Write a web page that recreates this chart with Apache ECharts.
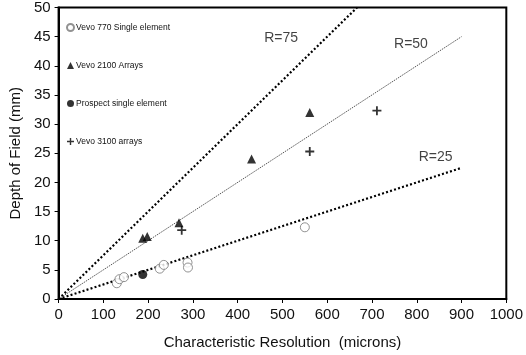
<!DOCTYPE html>
<html>
<head>
<meta charset="utf-8">
<script src="https://cdn.jsdelivr.net/npm/echarts@6/dist/echarts.min.js"></script>
<style>
  html, body { margin: 0; padding: 0; background: #fff; }
  #chart { width: 526px; height: 355px; }
</style>
</head>
<body>
<div id="chart"></div>
<script>
// measured points: [resolution (microns), depth of field (mm)]
const vevo770 = [[130, 2.7], [136, 3.4], [146, 3.75], [226, 5.2], [235, 5.85], [288, 6.25], [289, 5.4], [550, 12.3]]
const vevo2100 = [[188, 10.4], [198, 10.7], [269, 13.1], [431, 24], [561, 32]]
const prospect = [[188, 4.2]]
const vevo3100 = [[275, 11.8], [561, 25.3], [711, 32.3]]

// reference lines: depth = R/1000 * resolution
const rValues = [75, 50, 25]
const rLabelPos = [[497, 44.8], [787, 43.8], [842, 24.3]]
const lineMaxX = 900
const yMax = 50

const font = 'Liberation Sans, Arial, sans-serif'
const crossPath = 'path://M4,0 L6,0 L6,4 L10,4 L10,6 L6,6 L6,10 L4,10 L4,6 L0,6 L0,4 L4,4 Z'

const lineStyles = [
  { color: '#000', width: 2.2, type: [2, 2.2] },
  { color: '#555', width: 1, type: [1.5, 1] },
  { color: '#000', width: 2.2, type: [2, 2.2] },
]

const refLines = rValues.map((r, i) => {
  const endX = Math.min(lineMaxX, (yMax * 1000) / r)
  return {
    name: 'R=' + r,
    type: 'line',
    data: [[0, 0], [endX, (r / 1000) * endX]],
    symbol: 'none',
    lineStyle: lineStyles[i],
    silent: true,
    z: 1,
  }
})

const chart = echarts.init(document.getElementById('chart'))
chart.setOption({
  animation: false,
  textStyle: { fontFamily: font },
  grid: {
    left: 52.5,
    right: 19,
    top: 7,
    bottom: 56,
    show: true,
    borderColor: '#000',
    borderWidth: 2,
  },
  legend: {
    orient: 'vertical',
    left: 61,
    top: 18,
    itemGap: 29,
    itemWidth: 7,
    itemHeight: 7,
    textStyle: { fontSize: 8.5, color: '#111', fontFamily: font, padding: [0, 0, 0, -3] },
    data: [
      { name: 'Vevo 770 Single element' },
      { name: 'Vevo 2100 Arrays' },
      { name: 'Prospect single element' },
      { name: 'Vevo 3100 arrays' },
    ],
  },
  xAxis: {
    type: 'value',
    min: 0,
    max: 1000,
    interval: 100,
    name: 'Characteristic Resolution  (microns)',
    nameLocation: 'middle',
    nameGap: 36,
    nameTextStyle: { fontSize: 15, color: '#111', fontFamily: font },
    axisLine: { lineStyle: { color: '#000', width: 2 } },
    axisTick: { show: true, length: 4, lineStyle: { color: '#000', width: 1 } },
    axisLabel: { fontSize: 15, color: '#111', margin: 8, formatter: (v) => String(v) },
    splitLine: { show: false },
  },
  yAxis: {
    type: 'value',
    min: 0,
    max: 50,
    interval: 5,
    name: 'Depth of Field (mm)',
    nameLocation: 'middle',
    nameGap: 33,
    nameTextStyle: { fontSize: 15, color: '#111', fontFamily: font },
    axisLine: { lineStyle: { color: '#000', width: 2 } },
    axisTick: { show: true, length: 4, lineStyle: { color: '#000', width: 1 } },
    axisLabel: { fontSize: 15, color: '#111', margin: 8 },
    splitLine: { show: false },
  },
  series: [
    ...refLines,
    {
      name: 'Vevo 770 Single element',
      type: 'scatter',
      data: vevo770,
      symbol: 'circle',
      symbolSize: 9,
      itemStyle: { color: '#fff', borderColor: '#777', borderWidth: 1 },
      z: 3,
    },
    {
      name: 'Vevo 2100 Arrays',
      type: 'scatter',
      data: vevo2100,
      symbol: 'triangle',
      symbolSize: 9,
      itemStyle: { color: '#000' },
      z: 3,
    },
    {
      name: 'Prospect single element',
      type: 'scatter',
      data: prospect,
      symbol: 'circle',
      symbolSize: 9,
      itemStyle: { color: '#000' },
      z: 3,
    },
    {
      name: 'Vevo 3100 arrays',
      type: 'scatter',
      data: vevo3100,
      symbol: crossPath,
      symbolSize: 9,
      itemStyle: { color: '#000' },
      z: 3,
    },
    {
      type: 'scatter',
      silent: true,
      symbolSize: 0,
      data: rLabelPos.map((p, i) => ({ value: p, name: 'R=' + rValues[i] })),
      label: {
        show: true,
        position: 'inside',
        formatter: (p) => p.name,
        fontSize: 14,
        color: '#111',
        fontFamily: font,
      },
    },
  ],
})
</script>
</body>
</html>
